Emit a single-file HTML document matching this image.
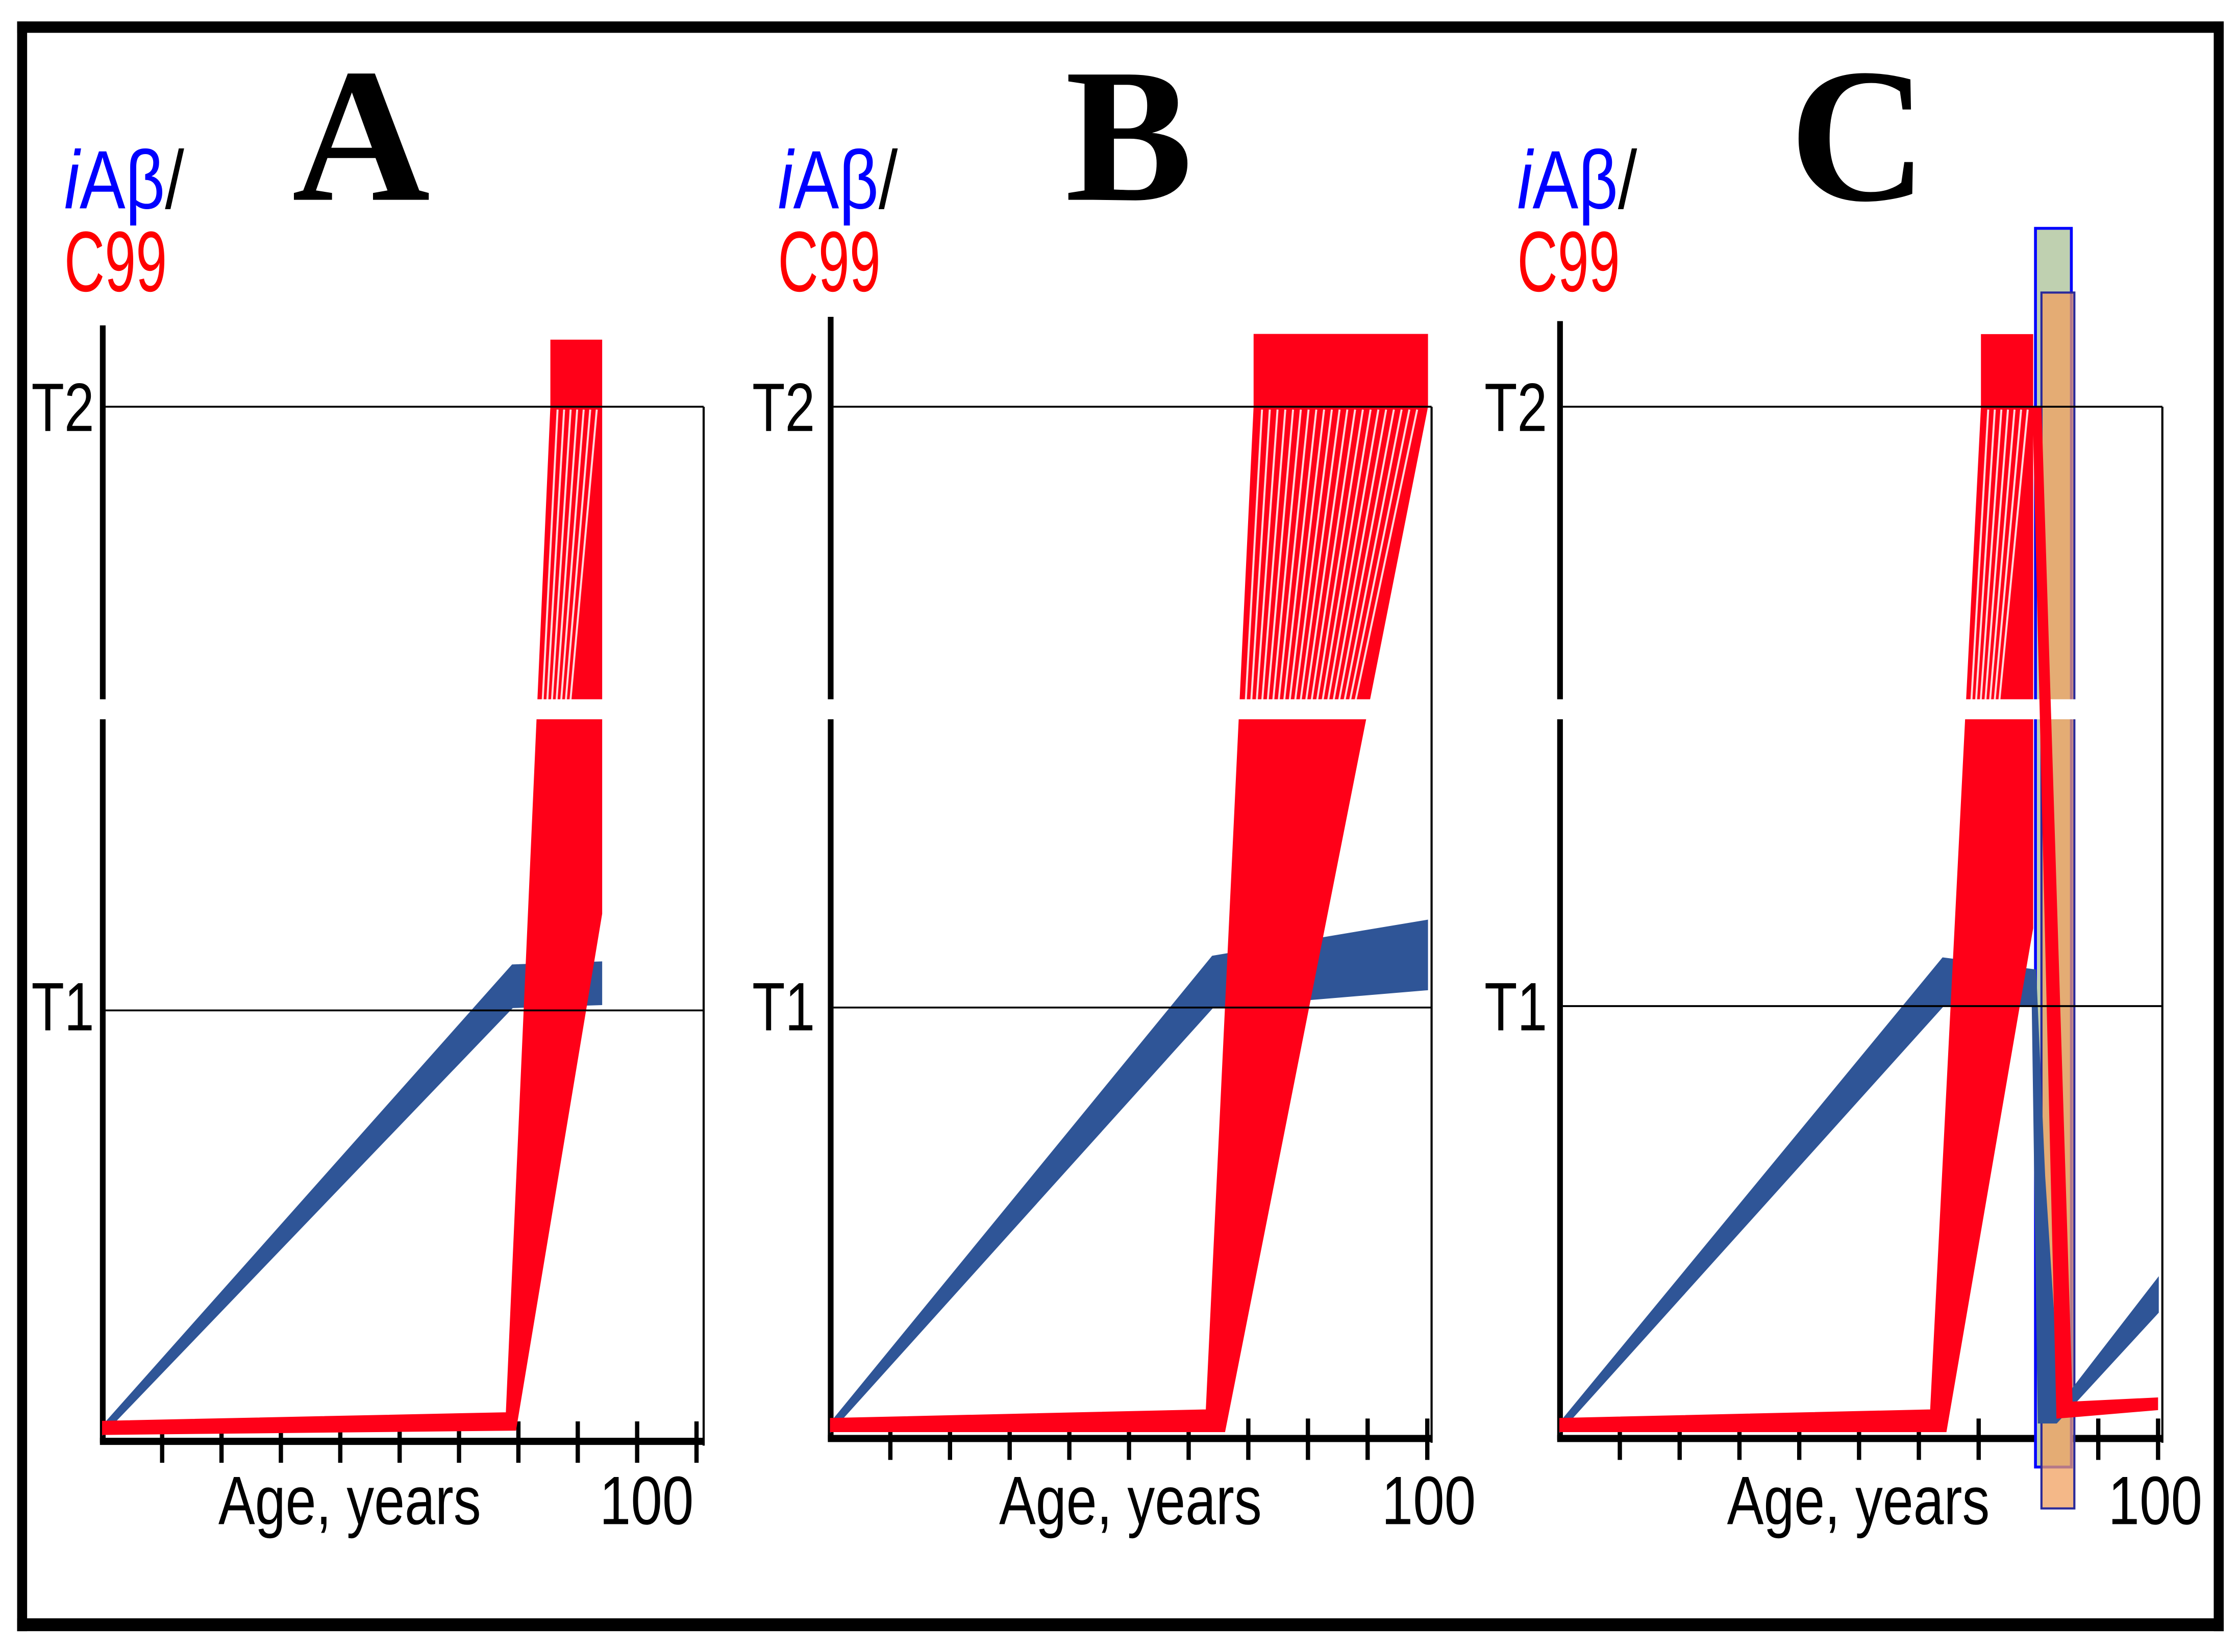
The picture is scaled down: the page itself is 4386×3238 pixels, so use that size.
<!DOCTYPE html>
<html><head><meta charset="utf-8"><style>
html,body{margin:0;padding:0;background:#fff;}
svg{display:block;}
</style></head><body>
<svg id="fig" xmlns="http://www.w3.org/2000/svg" width="4386" height="3238" viewBox="0 0 1568 1157.6" preserveAspectRatio="none">
<rect x="0" y="0" width="1568" height="1158" fill="#fff"/>
<g fill="#000">
<rect x="12" y="15" width="1546" height="8"/>
<rect x="12" y="1134" width="1546" height="9"/>
<rect x="12" y="15" width="7" height="1128"/>
<rect x="1551" y="15" width="7" height="1128"/>
</g>
<g id="plots"></g>
</svg>
<script>
// ---- data (age in years, level in threshold units: 1 = T1, 2 = T2) ----
const ageTicks = [10,20,30,40,50,60,70,80,90,100];
const A_blue = [[0,0.02],[69,1.075],[84,1.08],[84,1.01],[69,1.005],[0,0]];
const A_red = [[0,0.03],[68,0.05],[75.5,2.0],[75.5,2.11],[84,2.11],[84,1.16],[69.5,0.01],[0,0]];
const A_stripes = [76.6,77.7,78.8,79.9,81.0,82.1,83.2];
const B_blue = [[0,0.02],[64,1.085],[100,1.145],[100,1.03],[64,1.0],[0,0]];
const B_red = [[0,0.03],[63,0.05],[71,2.0],[71,2.12],[100,2.12],[100,2.0],[66,0.0],[0,0]];
const B_stripes = [72.3,73.6,74.9,76.2,77.5,78.8,80.1,81.4,82.7,84.0,85.3,86.6,87.9,89.2,90.5,91.8,93.1,94.4,95.7,97.0,98.3];
const C_blue = [[0,0.02],[64,1.08],[79.5,1.06],[81,0.6],[83.5,0.06],[100,0.36],[100,0.28],[83,0.02],[80,0.02],[79,1.0],[64,1.0],[0,0]];
const C_red = [[0,0.03],[62,0.05],[70.5,2.0],[70.5,2.12],[79,2.12],[79,1.13],[64.5,0.0],[0,0]];
const C_redDrop = [[79,2.0],[80.5,2.0],[85.7,0.07],[100,0.08],[100,0.05],[83,0.03]];
const C_stripes = [71.6,72.7,73.8,74.9,76.0,77.1,78.2];
const C_greenBand = [79.5,85.5];
const C_orangeBand = [80.5,86.0];

// ---- layout ----
const panels = [
  {id:'a', letter:'A', ax:72, x100:488, right:493, yTop:228, y0:1005, yT1:708, yT2:285, blue:A_blue, red:A_red, stripes:A_stripes, letterX:253, labX:45, tX:22, ageX:153, hundredX:420},
  {id:'b', letter:'B', ax:582, x100:1000, right:1003, yTop:222, y0:1003, yT1:706, yT2:285, blue:B_blue, red:B_red, stripes:B_stripes, letterX:791, labX:545, tX:527, ageX:700, hundredX:968},
  {id:'c', letter:'C', ax:1093, x100:1512, right:1515, yTop:225, y0:1003, yT1:705, yT2:285, blue:C_blue, red:C_red, stripes:C_stripes, letterX:1302, labX:1063, tX:1040, ageX:1210, hundredX:1477}
];
const NS='http://www.w3.org/2000/svg';
const root=document.getElementById('plots');
function mk(tag, parent){const e=document.createElementNS(NS,tag);parent.appendChild(e);return e;}
function txt(parent,x,y,s,size,fill,family,len,weight,style){
  const t=mk('text',parent);
  t.setAttribute('x',x);t.setAttribute('y',y);t.setAttribute('font-size',size);t.setAttribute('fill',fill);
  t.setAttribute('font-family',family);
  if(len){t.setAttribute('textLength',len);t.setAttribute('lengthAdjust','spacingAndGlyphs');}
  if(weight)t.setAttribute('font-weight',weight);
  if(style)t.setAttribute('font-style',style);
  t.textContent=s;return t;
}
const SANS='"Liberation Sans", sans-serif';
panels.forEach(p=>{
  const g=mk('g',root);
  
  
  const xs=a=>p.ax+(p.x100-p.ax)*a/100;
  const ys=v=>v<=1 ? p.y0-(p.y0-p.yT1)*v : p.yT1-(p.yT1-p.yT2)*(v-1);
  const pts=arr=>arr.map(d=>xs(d[0]).toFixed(1)+','+ys(d[1]).toFixed(1)).join(' ');

  const L=txt(g,p.letterX,140,p.letter,134,'#000','"Liberation Serif", serif',null,'bold');
  L.setAttribute('text-anchor','middle');
  
  
  const yt=mk('text',g);
  
  
  yt.setAttribute('x',p.labX);yt.setAttribute('y',146);yt.setAttribute('font-size',58);yt.setAttribute('font-family',SANS);
  yt.innerHTML='<tspan fill="#0000ff" font-style="italic">i</tspan><tspan fill="#0000ff">Aβ</tspan><tspan fill="#000">/</tspan>';
  yt.setAttribute('textLength',84);yt.setAttribute('lengthAdjust','spacingAndGlyphs');
  const c99=txt(g,p.labX,204,'C99',60,'#ff0000',SANS,72);
  
  
  const t2=txt(g,p.tX,302,'T2',48,'#000',SANS,44);
  
  
  const t1=txt(g,p.tX,722,'T1',48,'#000',SANS,44);
  
  
  const ag=txt(g,p.ageX,1068,'Age, years',48,'#000',SANS,184);
  
  
  const hu=txt(g,p.hundredX,1068,'100',48,'#000',SANS,66);
  
  

  const yax=mk('line',g);
  
  
  yax.setAttribute('x1',p.ax);yax.setAttribute('x2',p.ax);yax.setAttribute('y1',p.yTop);yax.setAttribute('y2',p.y0+6);
  yax.setAttribute('stroke','#000');yax.setAttribute('stroke-width',4);
  const xax=mk('line',g);
  
  
  xax.setAttribute('x1',p.ax-2);xax.setAttribute('x2',p.right);xax.setAttribute('y1',p.y0+5);xax.setAttribute('y2',p.y0+5);
  xax.setAttribute('stroke','#000');xax.setAttribute('stroke-width',5);
  ageTicks.forEach(a=>{
    const tk=mk('line',g);
    
    
    tk.setAttribute('x1',xs(a));tk.setAttribute('x2',xs(a));tk.setAttribute('y1',p.y0-9);tk.setAttribute('y2',p.y0+20);
    tk.setAttribute('stroke','#000');tk.setAttribute('stroke-width',3);
  });

  if(p.id==='c'){
    const gr=mk('rect',g);
    
    
    gr.setAttribute('x',xs(C_greenBand[0]));gr.setAttribute('width',xs(C_greenBand[1])-xs(C_greenBand[0]));
    gr.setAttribute('y',160);gr.setAttribute('height',868);
    gr.setAttribute('fill','#bfd0b0');gr.setAttribute('stroke','#0000ff');gr.setAttribute('stroke-width',2);
    const or=mk('rect',g);
    
    
    or.setAttribute('x',xs(C_orangeBand[0]));or.setAttribute('width',xs(C_orangeBand[1])-xs(C_orangeBand[0]));
    or.setAttribute('y',205);or.setAttribute('height',852);
    or.setAttribute('fill','#f0a060');or.setAttribute('fill-opacity',0.75);or.setAttribute('stroke','#2a2a9a');or.setAttribute('stroke-width',1.5);
  }

  const bl=mk('polygon',g);
  
  
  bl.setAttribute('points',pts(p.blue));bl.setAttribute('fill','#2f5597');bl.setAttribute('stroke','#2f5597');bl.setAttribute('stroke-width',1);
  const rd=mk('polygon',g);
  
  
  rd.setAttribute('points',pts(p.red));rd.setAttribute('fill','#ff0018');rd.setAttribute('stroke','#ff0018');rd.setAttribute('stroke-width',1);
  const base=p.red[1];
  p.stripes.forEach(a=>{
    const s=mk('line',g);
    
    
    const x1=xs(a),y1=ys(2),x2b=xs(base[0]),y2b=ys(base[1]);
    const f=0.3;
    s.setAttribute('x1',x1);s.setAttribute('y1',y1+2);
    s.setAttribute('x2',x1+(x2b-x1)*f);s.setAttribute('y2',y1+(y2b-y1)*f);
    s.setAttribute('stroke','#fff');s.setAttribute('stroke-width',1.4);s.setAttribute('stroke-opacity',0.85);
  });
  const br=mk('rect',g);
  
  
  br.setAttribute('x',p.ax-6);br.setAttribute('y',490);br.setAttribute('width',p.right-p.ax+3);br.setAttribute('height',14);br.setAttribute('fill','#fff');
  if(p.id==='c'){
    const dr=mk('polygon',g);
    
    
    dr.setAttribute('points',pts(C_redDrop));dr.setAttribute('fill','#ff0018');
  }
  [[p.yT2,'t2-line'],[p.yT1,'t1-line']].forEach(d=>{
    const l=mk('line',g);
    
    
    l.setAttribute('x1',p.ax+2);l.setAttribute('x2',p.right);l.setAttribute('y1',d[0]);l.setAttribute('y2',d[0]);
    l.setAttribute('stroke','#000');l.setAttribute('stroke-width',1.3);
  });
  const rb=mk('line',g);
  
  
  rb.setAttribute('x1',p.right);rb.setAttribute('x2',p.right);rb.setAttribute('y1',p.yT2);rb.setAttribute('y2',p.y0+8);
  rb.setAttribute('stroke','#000');rb.setAttribute('stroke-width',1.5);
});
</script>
</body></html>
